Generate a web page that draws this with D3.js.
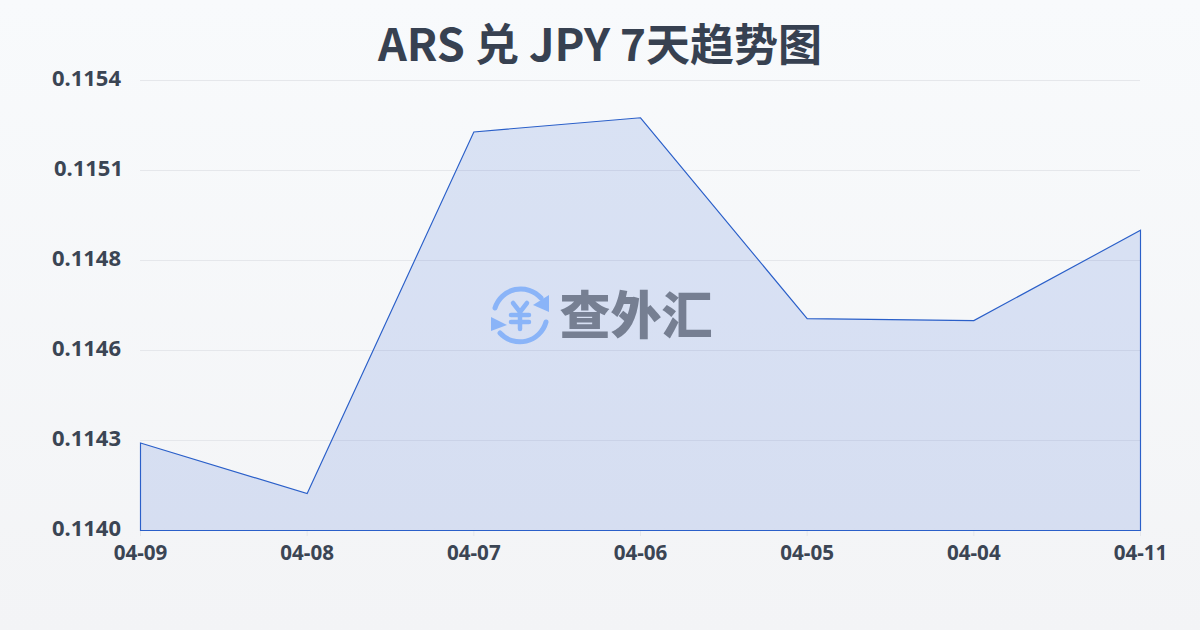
<!DOCTYPE html>
<html><head><meta charset="utf-8">
<script src="https://cdn.jsdelivr.net/npm/d3@7/dist/d3.min.js"></script>
<style>html,body{margin:0;padding:0;width:1200px;height:630px;overflow:hidden}svg{display:block}</style>
</head><body><svg id="c" width="1200" height="630"></svg>
<script>
const titleParts = ["ARS"," 兑 ","JPY"," 7天趋势图"];
const categories = ["04-09","04-08","04-07","04-06","04-05","04-04","04-11"];
const rates = [0.114272,0.114115,0.11524,0.115284,0.114659,0.114653,0.114934];
const tickValues = [0.114,0.11428,0.11456,0.11484,0.11512,0.1154];
const tickLabels = ["0.1140","0.1143","0.1146","0.1148","0.1151","0.1154"];
const watermark = "查外汇";

const titleFont = "'Noto Sans CJK SC',sans-serif";
const tickFont = "'Noto Sans',sans-serif";
const svg = d3.select("#c");
const defs = svg.append("defs");
const bg = defs.append("linearGradient").attr("id","bg").attr("x1",0).attr("y1",0).attr("x2",0).attr("y2",1);
bg.append("stop").attr("offset",0).attr("stop-color","#f8fafc");
bg.append("stop").attr("offset",1).attr("stop-color","#f3f4f6");
svg.append("rect").attr("width",1200).attr("height",630).attr("fill","url(#bg)");

const x = d3.scalePoint().domain(categories).range([140,1140]);
const y = d3.scaleLinear().domain([0.114,0.1154]).range([530,80]);

svg.append("text").attr("x",600).attr("y",61).attr("text-anchor","middle")
  .style("white-space","pre")
  .attr("font-family",titleFont).attr("font-weight",700).attr("font-size",44).attr("fill","#374151")
  .selectAll("tspan").data(titleParts).join("tspan")
  .attr("font-size",(d,i)=>i%2===0?45:44)
  .text(d=>d);

svg.append("g").selectAll("line").data(tickValues).join("line")
  .attr("x1",140).attr("x2",1140).attr("y1",d=>y(d)+.5).attr("y2",d=>y(d)+.5)
  .attr("stroke","#e5e7eb").attr("stroke-width",1);

svg.append("g").selectAll("line").data(categories).join("line")
  .attr("x1",d=>x(d)+.5).attr("x2",d=>x(d)+.5).attr("y1",530).attr("y2",536)
  .attr("stroke","#e5e7eb");

const pts = categories.map((c,i)=>({c,v:rates[i]}));
const area = d3.area().x(d=>x(d.c)+.5).y0(y(0.114)+.5).y1(d=>y(d.v)+.5);
svg.append("path").datum(pts).attr("d",area).attr("fill","#2f5fd0").attr("fill-opacity",.15).attr("stroke","none");
svg.append("path").datum(pts).attr("d",area).attr("fill","none").attr("stroke","#2a5fc9").attr("stroke-width",1.15);

svg.append("g").selectAll("text").data(tickValues).join("text")
  .attr("x",(d,i)=> i===4?88.5:86.5).attr("y",d=>y(d)+6).attr("text-anchor","middle")
  .attr("font-family",tickFont).attr("font-weight",700).attr("font-size",22).attr("fill","#3b4554")
  .text((d,i)=>tickLabels[i]);

svg.append("g").selectAll("text").data(categories).join("text")
  .attr("x",d=>x(d)+.5).attr("y",560).attr("text-anchor","middle")
  .attr("font-family",tickFont).attr("font-weight",700).attr("font-size",20.6).attr("fill","#3b4554")
  .text(d=>d);

const logo = svg.append("g").attr("transform","translate(520,315)");
const blue="#8ab4f8";
logo.append("path").attr("d","M-25,-7 A27,27 0 0 1 21,-17").attr("fill","none").attr("stroke",blue).attr("stroke-width",5).attr("stroke-linecap","round");
logo.append("path").attr("d","M29,-20 L29,-3 L13,-10 Z").attr("fill",blue);
logo.append("path").attr("d","M26,7 A27,27 0 0 1 -20,18").attr("fill","none").attr("stroke",blue).attr("stroke-width",5).attr("stroke-linecap","round");
logo.append("path").attr("d","M-29,2 L-29,16 L-13,10 Z").attr("fill",blue);
logo.append("path").attr("d","M-7,-12 L0,-3 L7,-12 M-9,0 H9 M-9,7 H9 M0,-3 V14").attr("fill","none").attr("stroke",blue).attr("stroke-width",4.5).attr("stroke-linecap","round");
svg.append("text").attr("x",636).attr("y",334).attr("text-anchor","middle")
  .attr("font-family","'Noto Sans CJK SC',sans-serif").attr("font-weight",900).attr("font-size",51).attr("fill","#767f92").text(watermark);
</script></body></html>
